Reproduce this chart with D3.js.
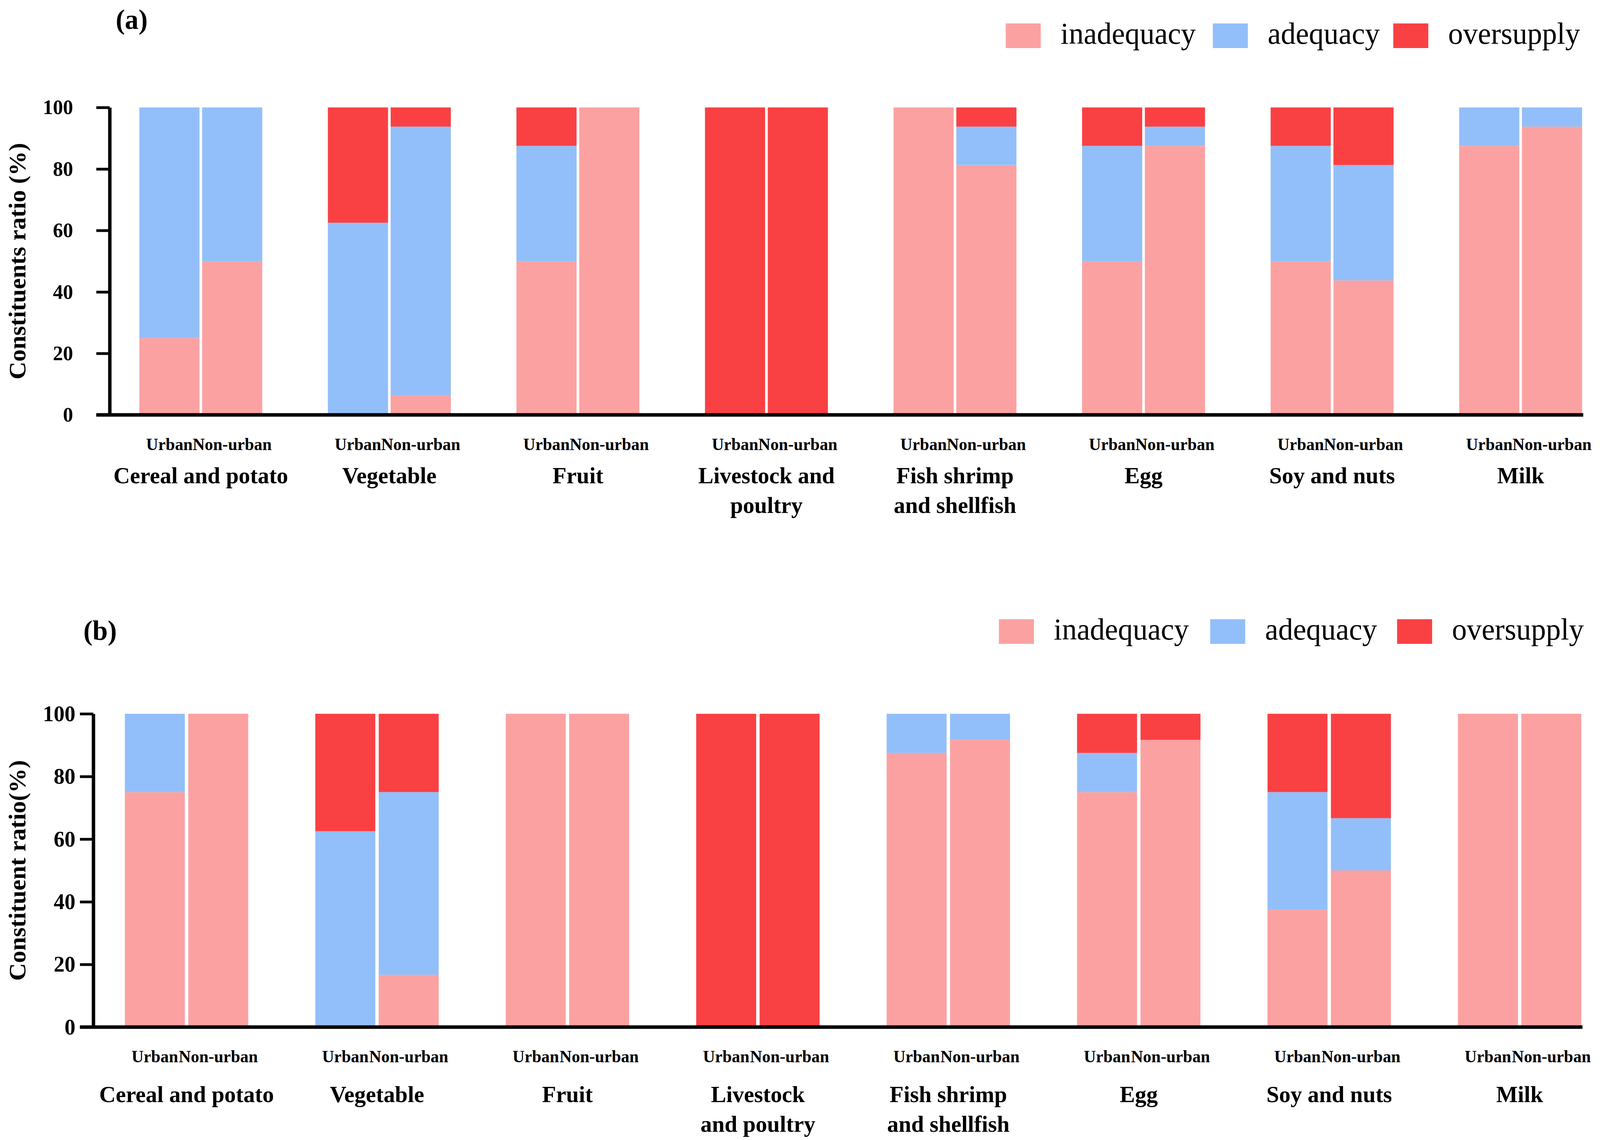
<!DOCTYPE html>
<html>
<head>
<meta charset="utf-8">
<script src="https://cdn.jsdelivr.net/npm/d3@7"></script>
<style>
  html, body { margin: 0; padding: 0; background: #fff; overflow: hidden; }
  #chart { display: block; width: 100vw; height: 100vh; }
  svg text { font-family: "Palatino Linotype", Palatino, "Book Antiqua", "Liberation Serif", serif; fill: #000; }
</style>
</head>
<body>
<svg id="chart" viewBox="0 0 4203 2918" preserveAspectRatio="none"></svg>
<script>
var categories = ["Cereal and potato", "Vegetable", "Fruit", "Livestock and poultry",
                  "Fish shrimp and shellfish", "Egg", "Soy and nuts", "Milk"];
var areas = ["Urban", "Non-urban"];
var statuses = ["inadequacy", "adequacy", "oversupply"];
var statusColors = ["#FCA1A1", "#92BFF9", "#F94144"];
var yTicks = [0, 20, 40, 60, 80, 100];

// panel (a), % of samples per status
var aUrbanInadequacy = [25, 0, 50, 0, 100, 50, 50, 87.5];
var aUrbanAdequacy   = [75, 62.5, 37.5, 0, 0, 37.5, 37.5, 12.5];
var aUrbanOversupply = [0, 37.5, 12.5, 100, 0, 12.5, 12.5, 0];
var aRuralInadequacy = [50, 6.25, 100, 0, 81.25, 87.5, 43.75, 93.75];
var aRuralAdequacy   = [50, 87.5, 0, 0, 12.5, 6.25, 37.5, 6.25];
var aRuralOversupply = [0, 6.25, 0, 100, 6.25, 6.25, 18.75, 0];

// panel (b)
var bUrbanInadequacy = [75, 0, 100, 0, 87.5, 75, 37.5, 100];
var bUrbanAdequacy   = [25, 62.5, 0, 0, 12.5, 12.5, 37.5, 0];
var bUrbanOversupply = [0, 37.5, 0, 100, 0, 12.5, 25, 0];
var bRuralInadequacy = [100, 16.67, 100, 0, 91.67, 91.67, 50, 100];
var bRuralAdequacy   = [0, 58.33, 0, 0, 8.33, 0, 16.67, 0];
var bRuralOversupply = [0, 25, 0, 100, 0, 8.33, 33.33, 0];

// how the category names break into lines
var aLabelLines = [["Cereal and potato"], ["Vegetable"], ["Fruit"], ["Livestock and", "poultry"],
                   ["Fish shrimp", "and shellfish"], ["Egg"], ["Soy and nuts"], ["Milk"]];
var bLabelLines = [["Cereal and potato"], ["Vegetable"], ["Fruit"], ["Livestock", "and poultry"],
                   ["Fish shrimp", "and shellfish"], ["Egg"], ["Soy and nuts"], ["Milk"]];

function buildRows(urban, rural) {
    var rows = [];
    for (var i = 0; i < categories.length; i++) {
        rows.push({ category: categories[i], area: "Urban",
                    inadequacy: urban[0][i], adequacy: urban[1][i], oversupply: urban[2][i] });
        rows.push({ category: categories[i], area: "Non-urban",
                    inadequacy: rural[0][i], adequacy: rural[1][i], oversupply: rural[2][i] });
    }
    return rows;
}

var svg = d3.select("#chart");
svg.append("rect").attr("width", 4203).attr("height", 2918).attr("fill", "#fff");

function drawPanel(opt) {
    var g = svg.append("g");

    var x0 = d3.scaleBand().domain(categories).range(opt.xRange).paddingInner(opt.groupPad);
    var x1 = d3.scaleBand().domain(areas).range([0, x0.bandwidth()]).paddingInner(opt.barPad);
    var y = d3.scaleLinear().domain([0, 100]).range(opt.yRange);
    var color = d3.scaleOrdinal().domain(statuses).range(statusColors);

    var stacked = d3.stack().keys(statuses)(opt.rows);

    g.append("g").selectAll("g")
        .data(stacked)
        .enter().append("g")
        .attr("fill", function(d) { return color(d.key); })
        .selectAll("rect")
        .data(function(d) { return d; })
        .enter().append("rect")
        .attr("x", function(d) { return x0(d.data.category) + x1(d.data.area); })
        .attr("y", function(d) { return y(d[1]); })
        .attr("width", x1.bandwidth())
        .attr("height", function(d) { return y(d[0]) - y(d[1]); });

    // y axis
    var yAxis = g.append("g")
        .attr("transform", "translate(" + opt.axisX + ",0)")
        .call(d3.axisLeft(y).tickValues(yTicks).tickSize(opt.tickLen).tickSizeOuter(0).tickPadding(opt.tickPad));
    yAxis.attr("font-family", null).attr("font-size", null);
    yAxis.select(".domain").attr("stroke", "#000").attr("stroke-width", 9);
    yAxis.selectAll(".tick line").attr("stroke", "#000").attr("stroke-width", 7);
    yAxis.selectAll(".tick text")
        .attr("font-size", opt.tickFont)
        .attr("font-weight", "bold");

    // x axis baseline
    g.append("line")
        .attr("x1", opt.axisX - opt.tickLen)
        .attr("x2", opt.xEnd)
        .attr("y1", y(0))
        .attr("y2", y(0))
        .attr("stroke", "#000")
        .attr("stroke-width", 9);

    // Urban / Non-urban under each bar
    opt.rows.forEach(function(r) {
        g.append("text")
            .attr("x", x0(r.category) + x1(r.area) + x1.bandwidth() / 2)
            .attr("y", opt.areaY)
            .attr("text-anchor", "middle")
            .attr("font-size", 44)
            .attr("font-weight", "bold")
            .text(r.area);
    });

    // category names
    categories.forEach(function(c, i) {
        var t = g.append("text")
            .attr("x", x0(c) + x0.bandwidth() / 2)
            .attr("y", opt.catY)
            .attr("text-anchor", "middle")
            .attr("font-size", 60)
            .attr("font-weight", "bold");
        opt.labelLines[i].forEach(function(line, j) {
            t.append("tspan")
                .attr("x", x0(c) + x0.bandwidth() / 2)
                .attr("dy", j === 0 ? 0 : 76)
                .text(line);
        });
    });

    // y title
    g.append("text")
        .attr("transform", "translate(67," + (opt.yRange[0] + opt.yRange[1]) / 2 + ") rotate(-90)")
        .attr("text-anchor", "middle")
        .attr("font-size", 63)
        .attr("font-weight", "bold")
        .text(opt.yTitle);

    // panel tag
    g.append("text")
        .attr("x", opt.tagX)
        .attr("y", opt.tagY)
        .attr("font-size", 72)
        .attr("font-weight", "bold")
        .text(opt.tag);

    // legend
    statuses.forEach(function(s, i) {
        g.append("rect")
            .attr("x", opt.legendX[i])
            .attr("y", opt.legendY)
            .attr("width", 92)
            .attr("height", 63)
            .attr("fill", color(s));
        g.append("text")
            .attr("x", opt.legendX[i] + 144)
            .attr("y", opt.legendY + 52)
            .attr("font-size", 78)
            .text(s);
    });
}

drawPanel({
    tag: "(a)", tagX: 304, tagY: 74,
    yTitle: "Constituents ratio (%)",
    rows: buildRows([aUrbanInadequacy, aUrbanAdequacy, aUrbanOversupply],
                    [aRuralInadequacy, aRuralAdequacy, aRuralOversupply]),
    labelLines: aLabelLines,
    xRange: [366, 4156], groupPad: 0.348, barPad: 0.042, xEnd: 4159,
    yRange: [1062, 275],
    axisX: 288, tickLen: 35, tickPad: 61, tickFont: 53,
    areaY: 1152, catY: 1237,
    legendX: [2642, 3186, 3660], legendY: 60
});

drawPanel({
    tag: "(b)", tagX: 219, tagY: 1638,
    yTitle: "Constituent ratio(%)",
    rows: buildRows([bUrbanInadequacy, bUrbanAdequacy, bUrbanOversupply],
                    [bRuralInadequacy, bRuralAdequacy, bRuralOversupply]),
    labelLines: bLabelLines,
    xRange: [328, 4154], groupPad: 0.352, barPad: 0.054, xEnd: 4157,
    yRange: [2629, 1827],
    axisX: 245, tickLen: 35, tickPad: 12, tickFont: 57,
    areaY: 2719, catY: 2821,
    legendX: [2624, 3179, 3670], legendY: 1585
});
</script>
</body>
</html>
